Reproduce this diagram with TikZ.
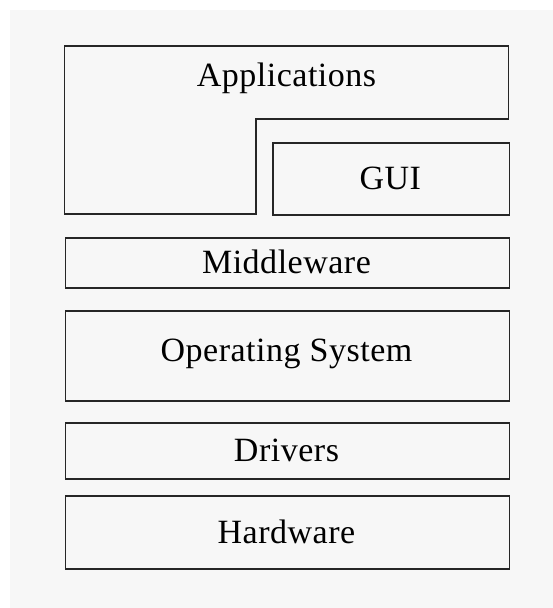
\documentclass[tikz,border=0pt]{standalone}
\usepackage{fontspec}
\setmainfont{Liberation Serif}[LetterSpace=1.5]
\begin{document}
\begin{tikzpicture}[x=1pt,y=-1pt,
  layerline/.style={draw=black!85, line width=1.7pt},
  layerbox/.style={layerline, rectangle, inner sep=0pt, anchor=north west},
  layertext/.style={font=\fontsize{34}{40}\selectfont, text=black, anchor=base, inner sep=0pt}]
\useasboundingbox (0,0) rectangle (553,608);
\fill[white] (0,0) rectangle (553,608);
\fill[black!3] (10,10) rectangle (553,608);
% Applications (L-shaped)
\draw[layerline, line join=miter] (64.5,46) -- (508.5,46) -- (508.5,119) -- (256,119) -- (256,214) -- (64.5,214) -- cycle;
\node[layertext] (apps) at (286.5,86.5) {Applications};
% GUI
\node[layerbox, minimum width=236.5pt, minimum height=72.5pt] (gui) at (272,141.8) {};
\node[layertext] (guit) at (390.3,189.3) {GUI};
% Middleware
\node[layerbox, minimum width=444pt, minimum height=50pt] (mid) at (64.5,237.3) {};
\node[layertext] (midt) at (286.5,273.3) {Middleware};
% Operating System
\node[layerbox, minimum width=444pt, minimum height=90pt] (os) at (64.5,310) {};
\node[layertext] (ost) at (286.5,361.7) {Operating System};
% Drivers
\node[layerbox, minimum width=444pt, minimum height=56pt] (drv) at (64.5,422.3) {};
\node[layertext] (drvt) at (286.5,461) {Drivers};
% Hardware
\node[layerbox, minimum width=444pt, minimum height=72.7pt] (hw) at (64.5,495.3) {};
\node[layertext] (hwt) at (286.5,543.3) {Hardware};
\end{tikzpicture}
\end{document}
